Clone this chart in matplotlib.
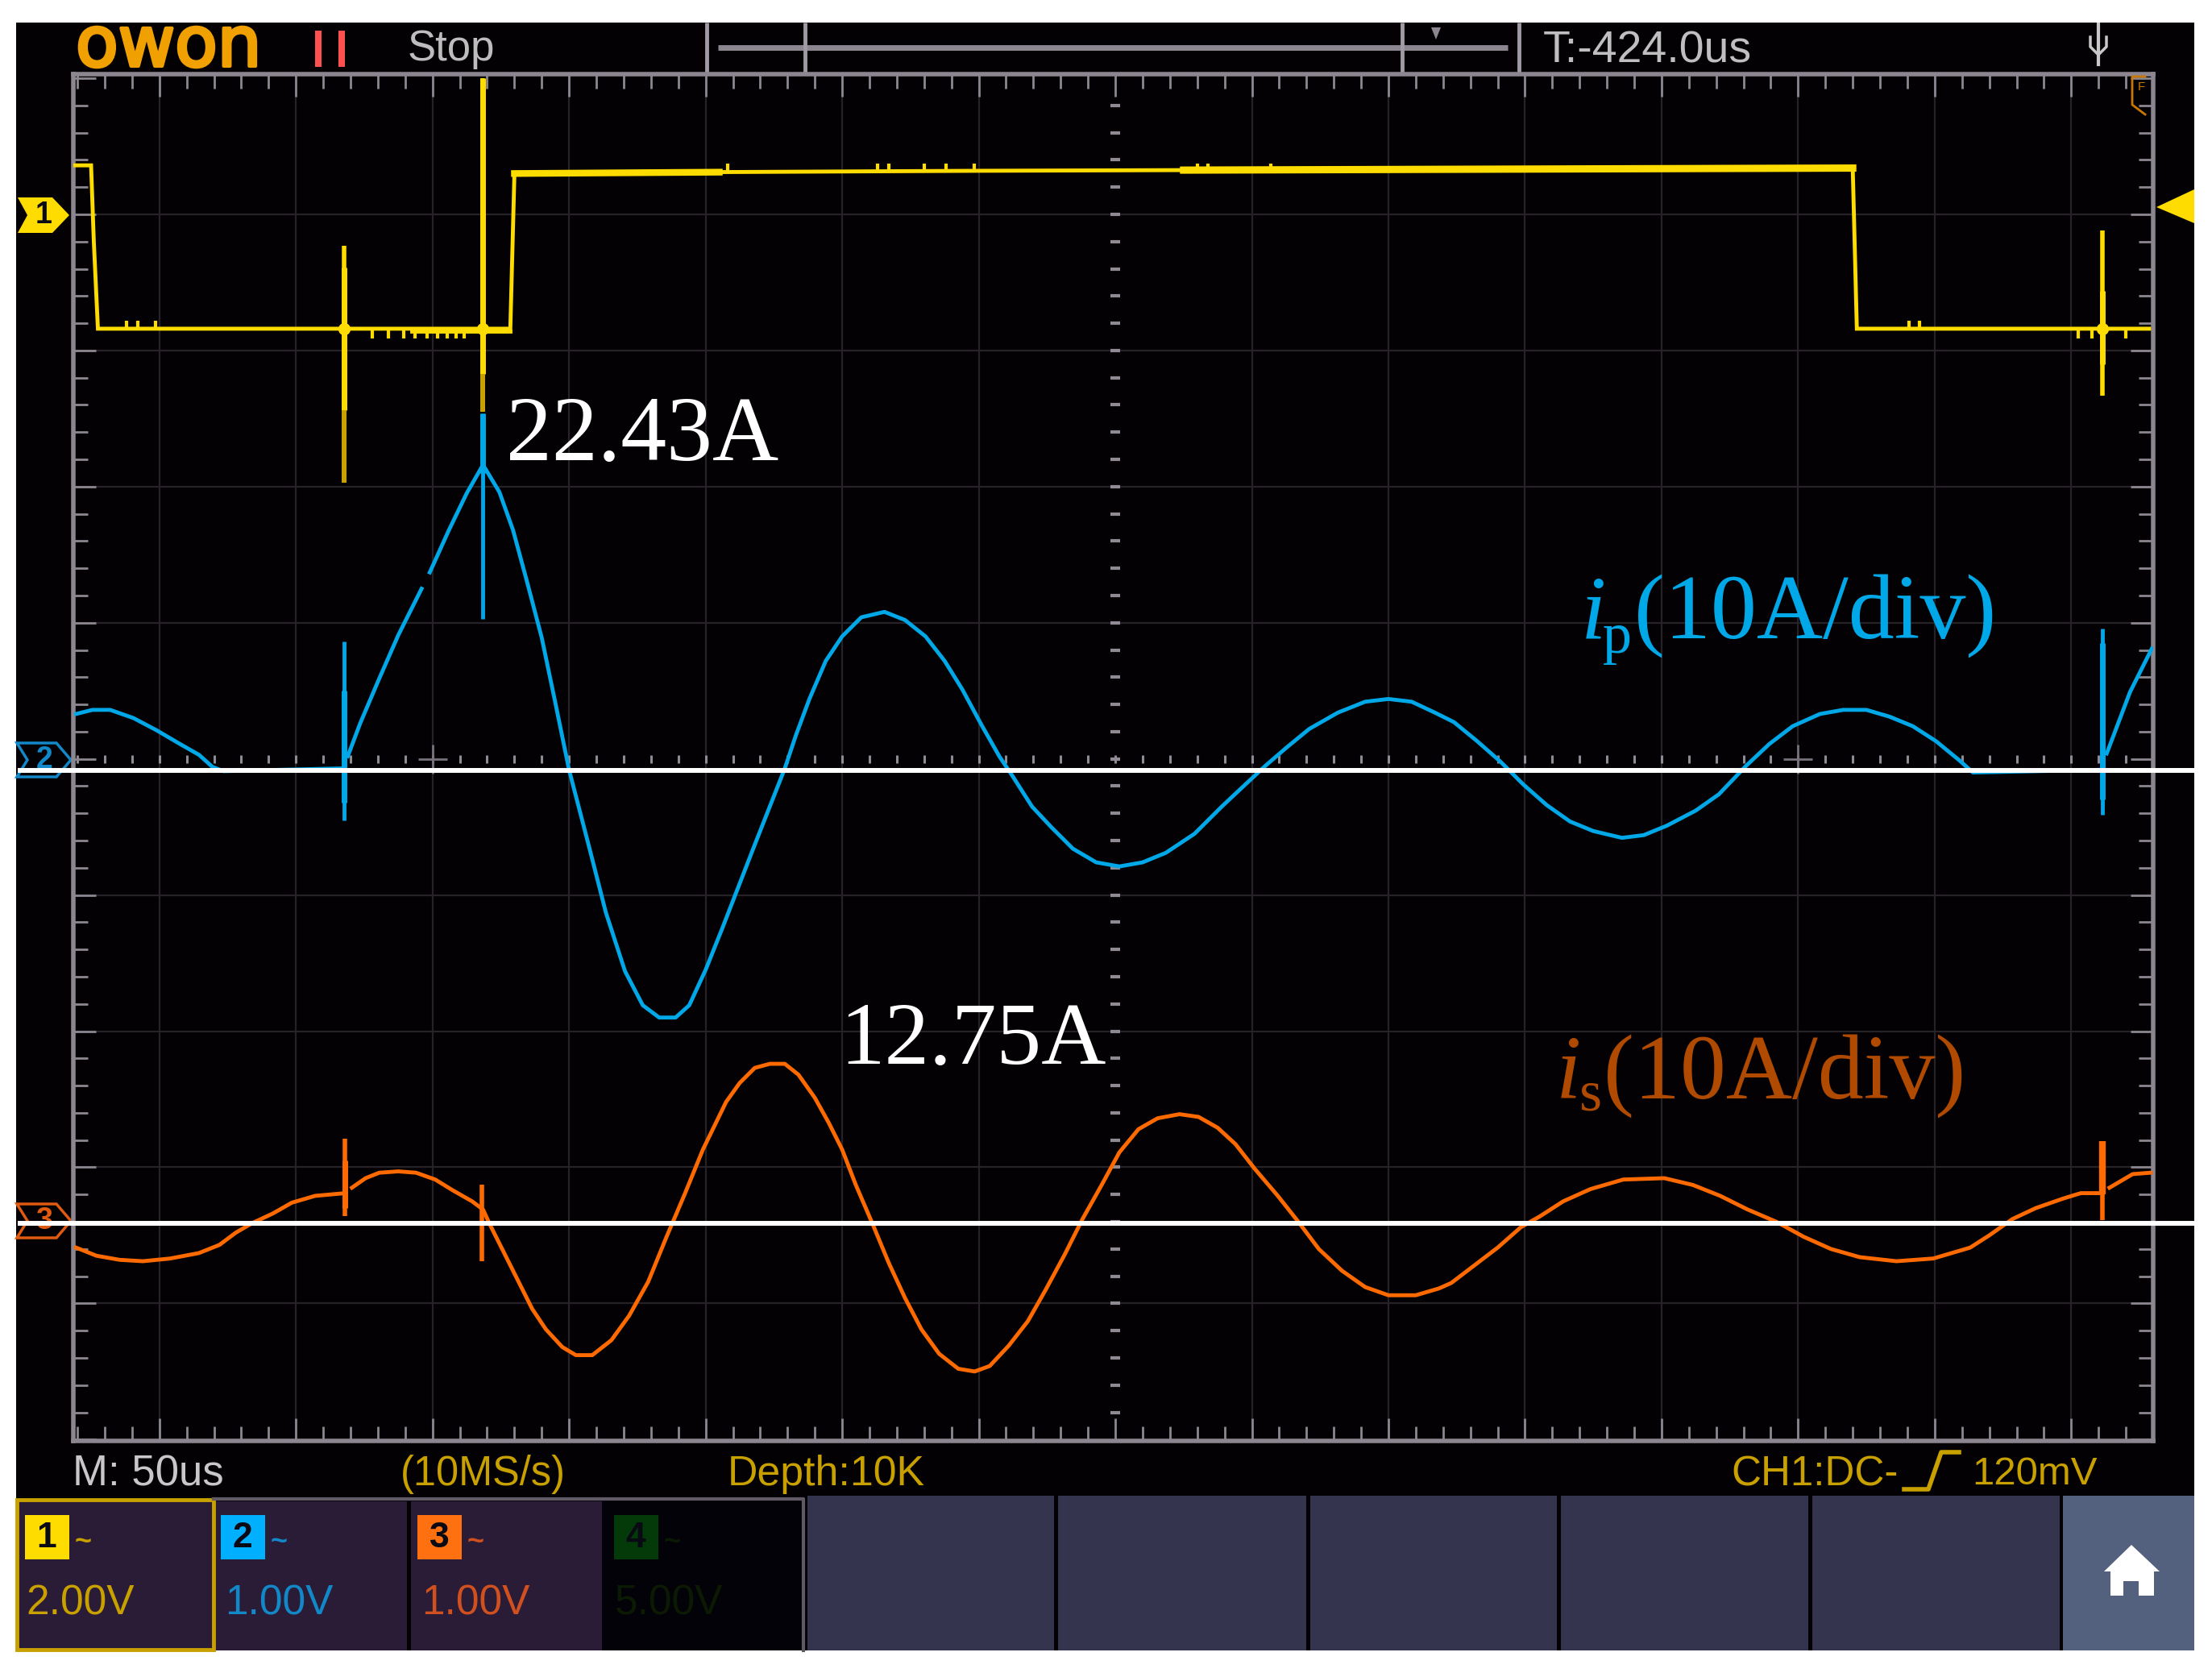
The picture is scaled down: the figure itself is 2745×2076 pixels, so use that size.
import numpy as np
import matplotlib
matplotlib.use("Agg")
import matplotlib.pyplot as plt
import matplotlib.patheffects as pe
from matplotlib.patches import Rectangle, Polygon

# Traces: x and y in divisions from screen centre
yellow_t = [-7.62, -7.50, -7.48, -7.45, -4.43, -4.40, -3.0, -1.0, 2.0, 5.40, 5.43, 7.57]
yellow_v = [4.36, 4.36, 3.80, 3.16, 3.16, 4.30, 4.31, 4.32, 4.33, 4.34, 3.16, 3.16]
yellow_spikes_t = [-5.65, -4.63, 7.23]
yellow_spikes_top = [3.77, 5.00, 3.88]
yellow_spikes_bot = [2.03, 2.55, 2.67]
yellow_up_t = [-7.24, -7.16, -7.03, 5.81, 5.89, -2.84, -1.74, -1.66, -1.40, -1.24, -1.03, 0.60, 0.68, 1.14]
yellow_down_t = [-5.44, -5.32, -5.21, -5.13, -5.04, -4.96, -4.89, -4.83, -4.77, 7.05, 7.15, 7.40]

blue1_t = [-7.61, -7.49, -7.36, -7.19, -7.02, -6.85, -6.71, -6.61, -6.53, -5.66]
blue1_v = [0.33, 0.36, 0.36, 0.30, 0.21, 0.11, 0.03, -0.06, -0.09, -0.07]
blue2_t = [-5.62, -5.53, -5.39, -5.25, -5.08]
blue2_v = [0.02, 0.26, 0.59, 0.91, 1.25]
blue3_t = [-5.02, -4.88, -4.75, -4.63, -4.51, -4.41, -4.31, -4.20, -4.10, -4.00, -3.86, -3.73,
           -3.59, -3.46, -3.34, -3.22, -3.12, -3.00, -2.88, -2.76, -2.64, -2.53, -2.42, -2.34,
           -2.24, -2.12, -2.00, -1.86, -1.69, -1.54, -1.39, -1.25, -1.12, -0.98, -0.85, -0.75,
           -0.61, -0.47, -0.31, -0.14, 0.03, 0.20, 0.37, 0.58, 0.78, 0.95, 1.10, 1.25, 1.42,
           1.63, 1.83, 2.00, 2.17, 2.34, 2.48, 2.65, 2.82, 2.99, 3.16, 3.33, 3.50, 3.71, 3.87,
           4.04, 4.25, 4.42, 4.62, 4.79, 4.96, 5.16, 5.33, 5.50, 5.67, 5.84, 6.01, 6.18, 6.28, 7.23]
blue3_v = [1.37, 1.68, 1.95, 2.16, 1.96, 1.68, 1.31, 0.89, 0.41, -0.08, -0.62, -1.13,
           -1.56, -1.81, -1.90, -1.90, -1.81, -1.55, -1.25, -0.94, -0.63, -0.35, -0.07, 0.17,
           0.44, 0.72, 0.90, 1.04, 1.08, 1.02, 0.90, 0.72, 0.51, 0.25, 0.02, -0.13,
           -0.35, -0.50, -0.66, -0.76, -0.79, -0.76, -0.69, -0.55, -0.35, -0.19, -0.05, 0.08, 0.22,
           0.34, 0.42, 0.44, 0.42, 0.34, 0.27, 0.13, -0.02, -0.19, -0.34, -0.46, -0.53, -0.58, -0.56,
           -0.49, -0.38, -0.26, -0.05, 0.11, 0.24, 0.33, 0.36, 0.36, 0.31, 0.24, 0.13, -0.01, -0.10, -0.08]
blue4_t = [7.26, 7.43, 7.59]
blue4_v = [0.04, 0.49, 0.81]
blue_spikes_t = [-5.65, -4.63, 7.23]
blue_spikes_top = [0.86, 2.54, 0.96]
blue_spikes_bot = [-0.45, 1.03, -0.41]
blue_thick_top = [0.50, 2.54, 0.85]
blue_thick_bot = [-0.32, 2.10, -0.30]

orange1_t = [-7.61, -7.46, -7.29, -7.12, -6.92, -6.71, -6.56, -6.44, -6.32, -6.17, -6.03, -5.86, -5.64]
orange1_v = [-3.59, -3.65, -3.68, -3.69, -3.67, -3.63, -3.57, -3.48, -3.41, -3.34, -3.26, -3.21, -3.19]
orange2_t = [-5.59, -5.49, -5.39, -5.25, -5.12, -4.98, -4.85, -4.71, -4.63, -4.58, -4.47, -4.37,
             -4.27, -4.17, -4.05, -3.95, -3.83, -3.69, -3.56, -3.42, -3.29, -3.15, -3.02, -2.85,
             -2.75, -2.64, -2.53, -2.42, -2.32, -2.20, -2.10, -2.00, -1.90, -1.78, -1.66, -1.54,
             -1.42, -1.29, -1.15, -1.03, -0.92, -0.78, -0.64, -0.51, -0.37, -0.24, -0.10, 0.03,
             0.17, 0.31, 0.47, 0.61, 0.75, 0.88, 1.02, 1.19, 1.34, 1.49, 1.66, 1.83, 2.00, 2.20,
             2.37, 2.46, 2.63, 2.80, 2.97, 3.11, 3.28, 3.48, 3.72, 4.02, 4.23, 4.43, 4.63, 4.84,
             5.04, 5.24, 5.45, 5.72, 5.99, 6.26, 6.40, 6.57, 6.74, 6.94, 7.07, 7.23]
orange2_v = [-3.15, -3.08, -3.04, -3.03, -3.04, -3.09, -3.17, -3.25, -3.31, -3.42, -3.64, -3.84,
             -4.04, -4.19, -4.32, -4.38, -4.38, -4.27, -4.09, -3.84, -3.52, -3.19, -2.87, -2.52,
             -2.38, -2.27, -2.24, -2.24, -2.32, -2.49, -2.67, -2.87, -3.13, -3.41, -3.70, -3.96,
             -4.19, -4.37, -4.48, -4.50, -4.46, -4.31, -4.13, -3.90, -3.64, -3.38, -3.13, -2.89,
             -2.72, -2.64, -2.61, -2.63, -2.71, -2.83, -3.01, -3.21, -3.40, -3.60, -3.76, -3.88, -3.94, -3.94,
             -3.89, -3.85, -3.72, -3.59, -3.44, -3.36, -3.25, -3.16, -3.09, -3.08, -3.13, -3.21, -3.31, -3.40,
             -3.51, -3.60, -3.66, -3.69, -3.67, -3.59, -3.50, -3.38, -3.30, -3.23, -3.19, -3.19]
orange3_t = [7.28, 7.45, 7.58]
orange3_v = [-3.15, -3.05, -3.04]
orange_spikes_t = [-5.64, -4.64, 7.23]
orange_spikes_top = [-2.79, -3.13, -2.81]
orange_spikes_bot = [-3.36, -3.69, -3.39]

# Horizontal white lines added over the screen, and the softkey bar
white_levels = [-0.083, -3.41]
channel_numbers = ["1", "2", "3", "4"]
channel_scales = ["2.00V", "1.00V", "1.00V", "5.00V"]
softkey_edges = [1002, 1313, 1626, 1937, 2249]

YELLOW = "#ffdc00"
DARK_YELLOW = "#c8a000"
BLUE = "#00a8e8"
ORANGE = "#ff6a00"
BLACK = "#030104"
GRID = "#262228"
FRAME = "#8c8690"
SANS = "Liberation Sans"
SERIF = "Liberation Serif"

fig = plt.figure(figsize=(27.45, 20.76), dpi=100, facecolor="white")

# Background axes in pixels for the instrument furniture
bg = fig.add_axes([0, 0, 1, 1], zorder=0)
bg.set_xlim(0, 2745)
bg.set_ylim(2076, 0)
bg.axis("off")
bg.add_patch(Rectangle((20, 28), 2703, 2020, color=BLACK, lw=0))


def label(x, y, s, color, size, ha="left", va="center", **kw):
    bg.text(x, y, s, color=color, fontsize=size, ha=ha, va=va, family=SANS, **kw)


# Top bar
logo = bg.text(94, 82, "owon", color="#f0a000", fontsize=62, family="DejaVu Sans", ha="left", va="baseline")
logo.set_path_effects([pe.withStroke(linewidth=3, foreground="#f0a000")])
for px in [395, 424]:
    bg.add_patch(Rectangle((px - 4, 38), 8, 45, color="#ff5050", lw=0))
label(506, 61, "Stop", "#bdbdbd", 38)
label(1915, 64, "T:-424.0us", "#bfbfbf", 40)
bg.plot([891, 1871], [59, 59], color="#8c8690", lw=5, solid_capstyle="butt")
for px in [877, 999, 1740, 1885]:
    bg.plot([px, px], [28, 92], color="#a09aa4", lw=3.5, solid_capstyle="butt")
bg.add_patch(Polygon([[1776, 34], [1788, 34], [1782, 49]], color="#8c8690", lw=0))
# USB symbol
bg.plot([2604, 2604], [30, 80], color="#c8c8c8", lw=3)
bg.plot([2594, 2594, 2604, 2614, 2614], [46, 58, 68, 58, 46], color="#c8c8c8", lw=2.5)

# Bottom status line
label(90, 1829, "M: 50us", "#c8c8c8", 38)
label(497, 1829, "(10MS/s)", DARK_YELLOW, 36.4)
label(903, 1829, "Depth:10K", DARK_YELLOW, 37.4)
label(2148, 1830, "CH1:DC-", DARK_YELLOW, 36.8)
bg.plot([2363, 2393, 2409, 2431], [1848, 1848, 1802, 1802], color=DARK_YELLOW, lw=4)
label(2447, 1830, "120mV", DARK_YELLOW, 35.4)

# Channel boxes
bg.add_patch(Rectangle((21, 1861), 244, 186, facecolor="#2a1c36", edgecolor=DARK_YELLOW, lw=3.5))
bg.add_patch(Rectangle((268, 1863), 237, 185, color="#2a1c36", lw=0))
bg.add_patch(Rectangle((510, 1863), 237, 185, color="#2a1c36", lw=0))
bg.add_patch(Rectangle((747, 1863), 248, 185, color="#020208", lw=0))
bg.plot([265, 997, 997], [1860, 1860, 2048], color="#5f5a66", lw=3)
box_left = [31, 274, 518, 762]
box_color = [YELLOW, "#00b0ff", "#ff7010", "#043a0a"]
scale_left = [32, 279, 523, 763]
scale_color = [DARK_YELLOW, "#1288c8", "#d05020", "#0c1a04"]
for i in range(4):
    bg.add_patch(Rectangle((box_left[i], 1880), 55, 55, color=box_color[i], lw=0))
    label(box_left[i] + 27, 1908, channel_numbers[i], "#0a0a14", 32, ha="center", fontweight="bold")
    label(box_left[i] + 62, 1913, "~", scale_color[i], 26, fontweight="bold")
    label(scale_left[i], 1990, channel_scales[i], scale_color[i], 37)

# Softkeys and home button
for i in range(len(softkey_edges)):
    right = softkey_edges[i + 1] - 5 if i + 1 < len(softkey_edges) else 2556
    bg.add_patch(Rectangle((softkey_edges[i], 1856), right - softkey_edges[i], 192, color="#35344f", lw=0))
bg.add_patch(Rectangle((2560, 1856), 163, 192, color="#53617f", lw=0))
bg.add_patch(Polygon([[2645, 1917], [2680, 1950], [2673, 1950], [2673, 1980], [2654, 1980], [2654, 1962],
                      [2635, 1962], [2635, 1980], [2619, 1980], [2619, 1950], [2611, 1950]],
                     color="white", lw=0))

# Channel markers on both sides of the screen
bg.add_patch(Polygon([[22, 245], [65, 245], [86, 267], [65, 289], [22, 289], [34, 267]], color=YELLOW, lw=0))
label(54, 267, "1", "#0a0a14", 27, ha="center", fontweight="bold")
bg.add_patch(Polygon([[2676, 257], [2723, 235], [2723, 277]], color=YELLOW, lw=0))
for y0, col, s in [(943, "#1288c8", "2"), (1515, "#e05a10", "3")]:
    bg.add_patch(Polygon([[21, y0 - 21], [70, y0 - 21], [88, y0], [70, y0 + 21], [21, y0 + 21], [34, y0]],
                         facecolor="none", edgecolor=col, lw=2.5))
    label(55, y0, s, col, 27, ha="center", fontweight="bold")

# Main screen, in divisions
ax = fig.add_axes([91 / 2745, 1 - 1788 / 2076, (2672 - 91) / 2745, (1788 - 92) / 2076], zorder=1)
ax.patch.set_alpha(0)
ax.set_xlim(-7.63, 7.60)
ax.set_ylim(-5.01, 5.03)
ax.tick_params(which="both", direction="in", top=True, right=True, color=FRAME,
               labelbottom=False, labelleft=False)
ax.tick_params(which="major", length=20, width=2)
ax.tick_params(which="minor", length=13, width=2)
ax.set_xticks(np.arange(-7, 8))
ax.set_yticks(np.arange(-5, 6))
ax.set_xticks(np.arange(-7.6, 7.61, 0.2), minor=True)
ax.set_yticks(np.arange(-5, 5.01, 0.2), minor=True)
for side in ax.spines.values():
    side.set_color(FRAME)
    side.set_linewidth(4)

# Grid has no line through the centre, only dotted ticks there
for gx in np.arange(-7, 8):
    if gx != 0:
        ax.axvline(gx, color=GRID, lw=1.6, zorder=1)
for gy in np.arange(-4, 5):
    if gy != 0:
        ax.axhline(gy, color=GRID, lw=1.6, zorder=1)
dots = np.arange(-7.6, 7.61, 0.2)
ax.plot(dots, np.zeros_like(dots), ls="none", marker="|", ms=7, mew=2.2, color="#8f8a94", zorder=1.5)
dots = np.arange(-4.8, 4.81, 0.2)
ax.plot(np.zeros_like(dots), dots, ls="none", marker="_", ms=8, mew=3, color="#8f8a94", zorder=1.5)
for cx in [-5, 5]:
    ax.plot([cx], [0], marker="+", ms=26, mew=2, color="#77727c", zorder=1.5)

# Channel 1
ax.plot(yellow_t, yellow_v, color=YELLOW, lw=3.5, solid_joinstyle="miter", zorder=3)
ax.plot([-4.40, -2.9], [4.30, 4.31], color=YELLOW, lw=6, zorder=3)
ax.plot([0.5, 5.40], [4.325, 4.34], color=YELLOW, lw=6.5, zorder=3)
ax.plot([-5.15, -4.43], [3.14, 3.14], color=YELLOW, lw=3.5, zorder=3)
ax.vlines(yellow_up_t, [3.16 if t < -4 or t > 5 else 4.31 for t in yellow_up_t],
          [3.22 if t < -4 or t > 5 else 4.37 for t in yellow_up_t], color=YELLOW, lw=3, zorder=3)
ax.vlines(yellow_down_t, 3.16, 3.09, color=YELLOW, lw=3, zorder=3)
ax.vlines(yellow_spikes_t, yellow_spikes_bot, yellow_spikes_top, color=YELLOW, lw=4, zorder=3)
ax.vlines(yellow_spikes_t, [2.56, 2.83, 2.90], [3.61, 5.00, 3.44], color=YELLOW, lw=5, zorder=3)
ax.vlines(yellow_spikes_t[:2], yellow_spikes_bot[:2], [2.56, 2.83], color=DARK_YELLOW, lw=4, zorder=3.1)
ax.plot(yellow_spikes_t, [3.16, 3.16, 3.16], ls="none", marker="o", ms=10, color=YELLOW, zorder=3.2)

# Channel 2
for t, v in [(blue1_t, blue1_v), (blue2_t, blue2_v), (blue3_t, blue3_v), (blue4_t, blue4_v)]:
    ax.plot(t, v, color=BLUE, lw=3.5, zorder=4)
ax.vlines(blue_spikes_t, blue_spikes_bot, blue_spikes_top, color=BLUE, lw=3.5, zorder=4)
ax.vlines(blue_spikes_t, blue_thick_bot, blue_thick_top, color=BLUE, lw=5, zorder=4)

# Channel 3
for t, v in [(orange1_t, orange1_v), (orange2_t, orange2_v), (orange3_t, orange3_v)]:
    ax.plot(t, v, color=ORANGE, lw=3.5, zorder=5)
ax.vlines(orange_spikes_t, orange_spikes_bot, orange_spikes_top, color=ORANGE, lw=4, zorder=5)
ax.vlines(orange_spikes_t[0], -3.30, -2.95, color=ORANGE, lw=5, zorder=5)
ax.vlines(orange_spikes_t[2], -3.20, -2.81, color=ORANGE, lw=6, zorder=5)

# White lines run over the whole picture width
for level in white_levels:
    ax.plot([-8.04, 7.90], [level, level], color="white", lw=4.3, clip_on=False,
            solid_capstyle="butt", zorder=6)


# Annotations in Times style, placed in picture pixels
def note(x, y, s, color, size, style="normal"):
    ax.text(x, y, s, color=color, fontsize=size, family=SERIF, style=style, ha="left", va="baseline",
            transform=bg.transData, clip_on=False, zorder=7)


note(628, 571, "22.43A", "white", 82)
note(1042, 1320, "12.75A", "white", 80)
note(1962, 792, "i", BLUE, 81, style="italic")
note(1989, 810, "p", BLUE, 52)
note(2028, 792, "(10A/div)", BLUE, 82)
note(1931, 1363, "i", "#b04a00", 81, style="italic")
note(1960, 1378, "s", "#b04a00", 52)
note(1990, 1363, "(10A/div)", "#b04a00", 82)

# Small orange F marker in the top right corner
ax.plot([2662, 2646, 2646, 2662], [95, 95, 130, 142], color="#c87800", lw=2,
        transform=bg.transData, clip_on=False, zorder=7)
ax.text(2657, 108, "F", color="#c87800", fontsize=11, family=SANS, ha="center", va="center",
        transform=bg.transData, clip_on=False, zorder=7)

fig.savefig("out.png", dpi=100)
